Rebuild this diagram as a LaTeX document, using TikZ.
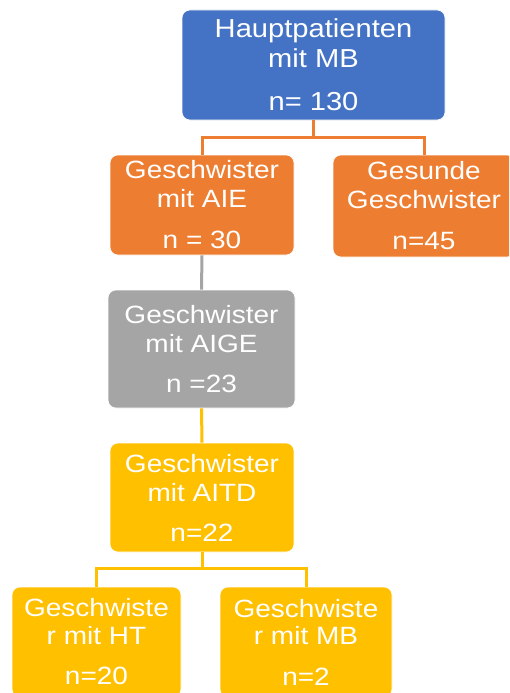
\documentclass[tikz,border=0pt]{standalone}
\usepackage{fontspec}
\setmainfont[FakeStretch=1.12]{Liberation Sans}
\definecolor{cblue}{HTML}{4472C4}
\definecolor{corange}{HTML}{ED7D31}
\definecolor{cgray}{HTML}{A5A5A5}
\definecolor{cyellow}{HTML}{FFC000}
\tikzset{
  box/.style={rectangle, rounded corners=8pt, draw=white, line width=0.6pt,
    text=white, align=center, inner sep=0pt,
    font=\fontsize{25}{29}\selectfont},
  link/.style={line width=3pt}
}
\begin{document}
\begin{tikzpicture}[x=1pt,y=-1pt]
\clip (0,0) rectangle (509,693);
\fill[white] (0,0) rectangle (509,693);
\node[box, fill=cblue, minimum width=263pt, minimum height=110pt,
  font=\fontsize{26}{30}\selectfont] (top) at (313.5,65)
  {Hauptpatienten\\mit MB\\[13pt]n= 130};
\node[box, fill=corange, minimum width=184pt, minimum height=100pt] (aie) at (202,205)
  {Geschwister\\mit AIE\\[12pt]n = 30};
\node[box, fill=corange, minimum width=182pt, minimum height=102pt] (ges) at (424,206)
  {Gesunde\\Geschwister\\[12pt]n=45};
\node[box, fill=cgray, minimum width=187pt, minimum height=118pt] (aige) at (201.5,349)
  {Geschwister\\mit AIGE\\[11pt]n =23};
\node[box, fill=cyellow, minimum width=184pt, minimum height=109pt] (aitd) at (202,497.5)
  {Geschwister\\mit AITD\\[11pt]n=22};
\node[box, fill=cyellow, minimum width=169pt, minimum height=110pt,
  font=\fontsize{25}{27.5}\selectfont] (ht) at (96.5,642)
  {Geschwiste\\r mit HT\\[13pt]n=20};
\node[box, fill=cyellow, minimum width=172pt, minimum height=110pt,
  font=\fontsize{25}{27.5}\selectfont] (mb) at (306,642)
  {Geschwiste\\r mit MB\\[13pt]n=2};
\coordinate (j1) at (313.5,137);
\coordinate (j2) at (202,568);
\draw[link, corange] (top.south) -- (j1) -| (aie.north);
\draw[link, corange] (j1) -| (ges.north);
\draw[link, cgray] (aie.south) -- (aige.north);
\draw[link, cyellow] (aige.south) -- (aitd.north);
\draw[link, cyellow] (aitd.south) -- (j2) -| (ht.north);
\draw[link, cyellow] (j2) -| (mb.north);
\end{tikzpicture}
\end{document}
